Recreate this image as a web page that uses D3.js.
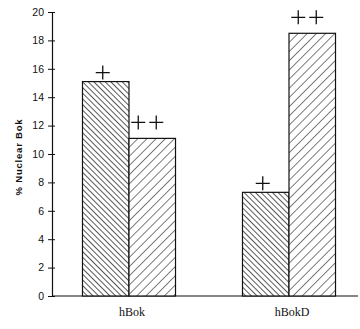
<!DOCTYPE html>
<html>
<head>
<meta charset="utf-8">
<script src="https://cdn.jsdelivr.net/npm/d3@7"></script>
<style>
  body { margin: 0; background: #fff; }
</style>
</head>
<body>
<div id="chart"></div>
<script>
const WIDTH = 360
const HEIGHT = 329

const groups = ['hBok', 'hBokD']
const series = ['a', 'b']
const valuesA = [15.1, 7.3]
const valuesB = [11.1, 18.5]
const markers = [['+', '++'], ['+', '++']]
const yTicks = [0, 2, 4, 6, 8, 10, 12, 14, 16, 18, 20]

const svg = d3.select('#chart').append('svg')
  .attr('width', WIDTH)
  .attr('height', HEIGHT)

const defs = svg.append('defs')
// dense back-slash hatch
const pa = defs.append('pattern')
  .attr('id', 'hatchA')
  .attr('patternUnits', 'userSpaceOnUse')
  .attr('width', 4).attr('height', 4)
  .attr('patternTransform', 'rotate(-45)')
pa.append('rect').attr('width', 4).attr('height', 4).attr('fill', '#fff')
pa.append('line').attr('x1', 0).attr('y1', 0).attr('x2', 0).attr('y2', 4)
  .attr('stroke', '#111').attr('stroke-width', 1.4)
// sparse forward-slash hatch
const pb = defs.append('pattern')
  .attr('id', 'hatchB')
  .attr('patternUnits', 'userSpaceOnUse')
  .attr('width', 6.5).attr('height', 6.5)
  .attr('patternTransform', 'rotate(45)')
pb.append('rect').attr('width', 6.5).attr('height', 6.5).attr('fill', '#fff')
pb.append('line').attr('x1', 0).attr('y1', 0).attr('x2', 0).attr('y2', 6.5)
  .attr('stroke', '#111').attr('stroke-width', 1.1)

const y = d3.scaleLinear().domain([0, 20]).range([296, 12])
const x0 = d3.scaleBand().domain(groups).range([49, 369])
const x1 = d3.scaleBand().domain(series).range([0, x0.bandwidth()]).paddingOuter(0.72)

// y axis
const yAxis = svg.append('g')
  .attr('transform', 'translate(52,0)')
  .call(d3.axisLeft(y).tickValues(yTicks).tickSize(4).tickSizeOuter(0))
yAxis.select('.domain').attr('stroke', '#111').attr('stroke-width', 1.2)
yAxis.selectAll('.tick line').attr('stroke', '#111').attr('x2', -4).attr('x1', 3)
yAxis.selectAll('.tick text')
  .attr('x', -8)
  .attr('font-family', 'Liberation Sans, Arial, sans-serif')
  .attr('font-size', 10.5)
  .attr('fill', '#111')

// x axis line
svg.append('line')
  .attr('x1', 52).attr('x2', 358)
  .attr('y1', y(0)).attr('y2', y(0))
  .attr('stroke', '#111').attr('stroke-width', 1.2)

const rows = groups.map((g, i) => [
  {g, s: 'a', v: valuesA[i], m: markers[i][0]},
  {g, s: 'b', v: valuesB[i], m: markers[i][1]}
]).flat()

svg.selectAll('rect.bar')
  .data(rows)
  .enter()
  .append('rect')
  .attr('class', 'bar')
  .attr('x', d => x0(d.g) + x1(d.s))
  .attr('y', d => y(d.v))
  .attr('width', x1.bandwidth())
  .attr('height', d => y(0) - y(d.v))
  .attr('fill', d => d.s === 'a' ? 'url(#hatchA)' : 'url(#hatchB)')
  .attr('stroke', '#111')
  .attr('stroke-width', 1.2)

// plus markers
const ARM = 7
rows.forEach(d => {
  const n = d.m.length
  const cx = x0(d.g) + x1(d.s) + x1.bandwidth() / 2 - (d.s === 'a' ? 3 : 5)
  const cy = y(d.v) - (d.s === 'a' ? 9 : 16)
  for (let k = 0; k < n; k++) {
    const px = cx + (k - (n - 1) / 2) * 18
    svg.append('path')
      .attr('d', `M${px - ARM},${cy}H${px + ARM}M${px},${cy - ARM}V${cy + ARM}`)
      .attr('stroke', '#111')
      .attr('stroke-width', 1.3)
      .attr('fill', 'none')
  }
})

// category labels
svg.selectAll('text.cat')
  .data(groups)
  .enter()
  .append('text')
  .attr('class', 'cat')
  .attr('x', d => x0(d) + x0.bandwidth() / 2 + 3)
  .attr('y', 316)
  .attr('text-anchor', 'middle')
  .attr('font-family', 'Liberation Serif, Times New Roman, serif')
  .attr('font-size', 12)
  .attr('fill', '#111')
  .text(d => d)

// y title
svg.append('text')
  .attr('transform', 'translate(22,157) rotate(-90)')
  .attr('text-anchor', 'middle')
  .attr('font-family', 'Liberation Sans, Arial, sans-serif')
  .attr('font-weight', 'bold')
  .attr('font-size', 9.5)
  .attr('letter-spacing', '0.8px')
  .attr('fill', '#111')
  .text('% Nuclear Bok')
</script>
</body>
</html>
